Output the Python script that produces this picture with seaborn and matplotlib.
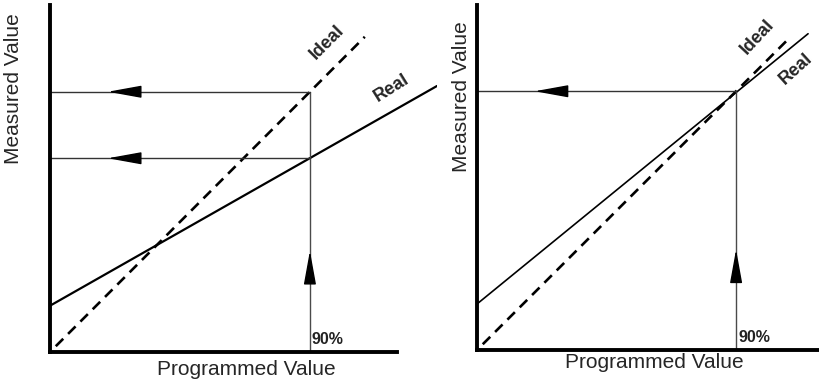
import matplotlib
matplotlib.use("Agg")
import matplotlib.pyplot as plt
import seaborn as sns

# values, in % of full scale
set_point = 90
ideal_x = [2, 109]
ideal_y = [2, 109]
real_left_x = [0, 134]
real_left_y = [16, 92]
real_right_x = [0, 115]
real_right_y = [16, 110]
readouts_left = [90, 67]   # what the ideal and the real unit report at 90%
readouts_right = [90]
axis_max_left = 120
axis_max_right = 118.8
y_max = 120


def draw_panel(ax, real_x, real_y, readouts, x_end, xlim_max, real_lw):
    # ideal response (dashed) and real response (solid)
    sns.lineplot(x=ideal_x, y=ideal_y, ax=ax, color="black", lw=1.9,
                 linestyle=(0, (4, 2.6)), estimator=None)
    sns.lineplot(x=real_x, y=real_y, ax=ax, color="black", lw=real_lw,
                 estimator=None)

    # set point line going up, readout lines going left
    ax.plot([set_point, set_point], [0, max(readouts)], color="#4a4a4a", lw=1)
    ax.annotate("", xy=(set_point, 35), xytext=(set_point, 25.5),
                arrowprops=dict(arrowstyle="-|>,head_length=2.1,head_width=0.38",
                                color="black", lw=1, shrinkA=0, shrinkB=0,
                                mutation_scale=10))
    for r in readouts:
        ax.plot([0, set_point], [r, r], color="#333333", lw=1)
        ax.annotate("", xy=(20, r), xytext=(30.5, r),
                    arrowprops=dict(arrowstyle="-|>,head_length=2.1,head_width=0.38",
                                    color="black", lw=1, shrinkA=0, shrinkB=0,
                                    mutation_scale=10))

    ax.text(set_point + 0.7, 1.8, "90%", fontsize=11.5, fontweight="bold",
            ha="left", va="bottom", color="#222222")

    ax.set_xlim(0, xlim_max)
    ax.set_ylim(0, y_max)
    ax.set_xticks([])
    ax.set_yticks([])
    for side in ["top", "right"]:
        ax.spines[side].set_visible(False)
    for side in ["left", "bottom"]:
        ax.spines[side].set_linewidth(2.8)
        ax.spines[side].set_color("black")
    ax.spines["bottom"].set_bounds(0, x_end)
    ax.set_facecolor("none")


sns.set_theme(style="white")
plt.rcParams["font.family"] = ["Liberation Sans", "DejaVu Sans"]

fig = plt.figure(figsize=(8.19, 3.85), dpi=100)
ax1 = fig.add_axes([50 / 819, 33 / 385, 387 / 819, 347 / 385])
ax2 = fig.add_axes([477 / 819, 35 / 385, 342 / 819, 345 / 385])

draw_panel(ax1, real_left_x, real_left_y, readouts_left,
           axis_max_left, 134, 1.6)
draw_panel(ax2, real_right_x, real_right_y, readouts_right,
           axis_max_right, axis_max_right, 1.2)

# curve labels
ax1.text(95.9, 107, "Ideal", rotation=45, fontsize=13, fontweight="bold",
         ha="center", va="center", rotation_mode="anchor")
ax1.text(118.4, 91.4, "Real", rotation=32, fontsize=13, fontweight="bold",
         ha="center", va="center", rotation_mode="anchor")
ax2.text(97.3, 108.8, "Ideal", rotation=47, fontsize=13, fontweight="bold",
         ha="center", va="center", rotation_mode="anchor", clip_on=False)
# the reference crops this label at the right edge; keep it just inside
ax2.text(106.8, 92.3, "Real", rotation=42, fontsize=13, fontweight="bold",
         ha="left", va="baseline", rotation_mode="anchor", clip_on=False)

ax1.set_xlabel("Programmed Value", fontsize=15, va="center")
ax1.xaxis.set_label_coords(0.506, -0.051)
ax1.set_ylabel("Measured Value", fontsize=15, va="center")
ax1.yaxis.set_label_coords(-0.0956, 0.758)
ax2.set_xlabel("Programmed Value", fontsize=15, va="center")
ax2.xaxis.set_label_coords(0.5175, -0.035)
ax2.set_ylabel("Measured Value", fontsize=15, va="center")
ax2.yaxis.set_label_coords(-0.0439, 0.733)

fig.savefig("out.png", dpi=100, facecolor="white")
